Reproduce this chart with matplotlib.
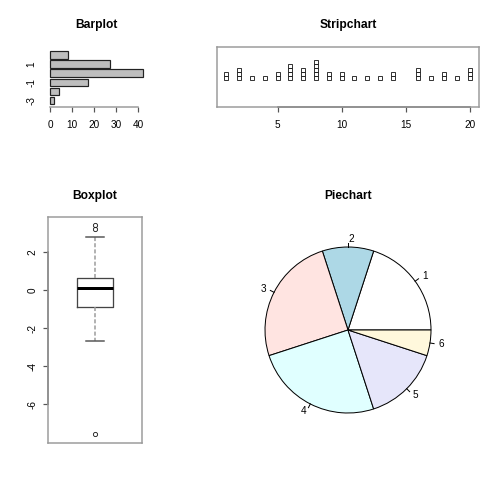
import numpy as np
import matplotlib
matplotlib.use('Agg')
import matplotlib.pyplot as plt

plt.rcParams['font.family'] = ['Liberation Sans', 'DejaVu Sans']

# data
bar_cats = [-3, -2, -1, 0, 1, 2]
bar_vals = [2, 4, 17, 42, 27, 8]
bar_shown = [-3, -1, 1]

strip_x = [1, 1, 2, 2, 2, 3, 4, 5, 5, 6, 6, 6, 6, 7, 7, 7, 8, 8, 8, 8, 8,
           9, 9, 10, 10, 11, 12, 13, 14, 14, 16, 16, 16, 17, 18, 18, 19,
           20, 20, 20]
strip_ticks = [5, 10, 15, 20]

box_q1, box_med, box_q3 = -0.89, 0.09, 0.64
box_lo, box_hi = -2.69, 2.76
box_fliers = [3.22, 3.40, -7.57]
box_ticks = [-6, -4, -2, 0, 2]

pie_vals = [20, 10, 25, 25, 15, 5]
pie_labels = ['1', '2', '3', '4', '5', '6']
pie_cols = ['white', 'lightblue', 'mistyrose', 'lightcyan', 'lavender', 'cornsilk']

FRAME = '#9a9a9a'
AXIS = '#555555'

W = H = 504
fig = plt.figure(figsize=(7, 7), dpi=72)


def px_axes(l, t, r, b):
    ax = fig.add_axes([l / W, 1 - b / H, (r - l) / W, (b - t) / H])
    for s in ax.spines.values():
        s.set_color(FRAME)
        s.set_linewidth(1.5)
    return ax


def title(x, y, s):
    fig.text(x / W, 1 - y / H, s, ha='center', va='baseline',
             fontsize=12, fontweight='bold')


def r_ticks(ax, which='x'):
    ax.tick_params(axis=which, length=5, width=1.2, pad=8, labelsize=10,
                   color=AXIS, direction='out')


# ---- Barplot
ax1 = px_axes(46.3, 49, 146.4, 106.6)
ypos = 0.7 + 1.2 * np.arange(len(bar_cats))
ax1.barh(ypos, bar_vals, height=1.0, color='#bebebe', edgecolor='#222222', lw=1.2)
ax1.set_xlim(-1.68, 43.68)
ax1.set_ylim(-0.08, 7.48)
for s in ['top', 'right', 'left']:
    ax1.spines[s].set_visible(False)
ax1.spines['bottom'].set_bounds(0, 40)
ax1.spines['bottom'].set_color(FRAME)
ax1.set_xticks([0, 10, 20, 30, 40])
r_ticks(ax1, 'x')
ax1.set_yticks([ypos[bar_cats.index(c)] for c in bar_shown])
ax1.set_yticklabels([str(c) for c in bar_shown], rotation=90, va='center')
ax1.tick_params(axis='y', length=0, pad=10, labelsize=10)
title(96.3, 28, 'Barplot')

# ---- Stripchart
ax2 = px_axes(216.7, 46.7, 479.3, 106.7)
seen = {}
sy = []
for v in strip_x:
    k = seen.get(v, 0)
    seen[v] = k + 1
    sy.append(0.97 + k * 0.1333)
ax2.plot(strip_x, sy, ls='none', marker='s', ms=4.2, mfc='none', mec='#222222',
         mew=0.9)
ax2.set_xlim(0.24, 20.76)
ax2.set_ylim(0, 2)
ax2.set_xticks(strip_ticks)
r_ticks(ax2, 'x')
ax2.set_yticks([])
ax2.plot([strip_ticks[0], strip_ticks[-1]], [0, 0], color=AXIS, lw=1.5,
         transform=ax2.get_xaxis_transform(), clip_on=False)
title(348, 28, 'Stripchart')

# ---- Boxplot
ax3 = px_axes(48.3, 216.7, 141.7, 442.7)
stats = [dict(med=box_med, q1=box_q1, q3=box_q3, whislo=box_lo,
              whishi=box_hi, fliers=box_fliers)]
ax3.bxp(stats, positions=[1], widths=0.375, patch_artist=False,
        boxprops=dict(color='#444444', lw=1.3),
        medianprops=dict(color='black', lw=3),
        whiskerprops=dict(color=FRAME, lw=1.5, ls=(0, (2.7, 1.4))),
        capprops=dict(color=AXIS, lw=1.5),
        flierprops=dict(marker='o', ms=4.2, mfc='none', mec='#222222', mew=0.9))
lo = min(box_fliers + [box_lo])
hi = max(box_fliers + [box_hi])
ext = 0.04 * (hi - lo)
ax3.set_ylim(lo - ext, hi + ext)
ax3.set_xlim(0.5, 1.5)
ax3.set_xticks([])
ax3.set_yticks(box_ticks)
ax3.set_yticklabels([str(t) for t in box_ticks], rotation=90, va='center')
r_ticks(ax3, 'y')
ax3.tick_params(axis='y', pad=6)
ax3.plot([0, 0], [box_ticks[0], box_ticks[-1]], color=AXIS, lw=1.5,
         transform=ax3.get_yaxis_transform(), clip_on=False)
title(95, 199, 'Boxplot')

# ---- Piechart
ax4 = fig.add_axes([216.7 / W, 1 - 443.3 / H, 262.6 / W, 226.6 / H])
rad = 0.8
ax4.pie(pie_vals, colors=pie_cols, radius=rad, startangle=0, counterclock=True,
        wedgeprops=dict(edgecolor='black', linewidth=1))
ax4.set_aspect('auto')
ax4.set_xlim(-131.3 / 103.75, 131.3 / 103.75)
ax4.set_ylim(-113.3 / 103.75, 113.3 / 103.75)
cum = np.cumsum([0] + pie_vals) / sum(pie_vals)
for i, lab in enumerate(pie_labels):
    th = np.pi * (cum[i] + cum[i + 1])
    cx, cy = np.cos(th), np.sin(th)
    ax4.plot([rad * cx, 1.05 * rad * cx], [rad * cy, 1.05 * rad * cy],
             color='black', lw=1)
    ax4.text(1.1 * rad * cx, 1.1 * rad * cy, lab, fontsize=10,
             ha='left' if cx >= 0 else 'right', va='center')
ax4.axis('off')
title(348, 199, 'Piechart')

fig.savefig('out.png', dpi=72)
